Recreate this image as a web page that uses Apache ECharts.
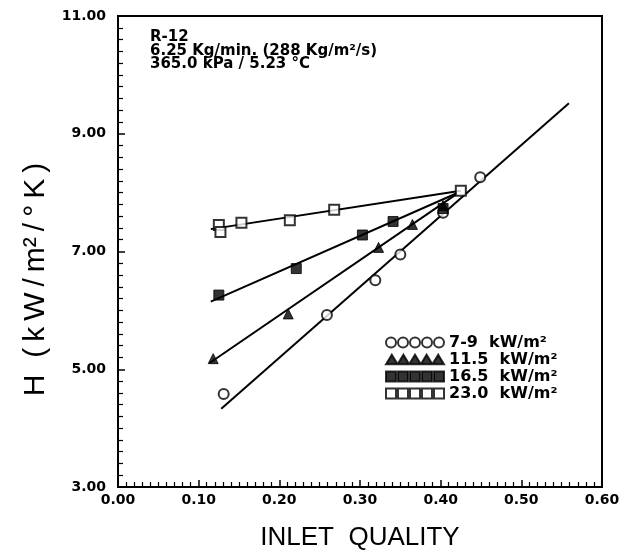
<!DOCTYPE html>
<html>
<head>
<meta charset="utf-8">
<script src="https://cdn.jsdelivr.net/npm/echarts@6/dist/echarts.min.js"></script>
<style>
  html, body { margin: 0; padding: 0; background: #fff; }
  #chart { width: 623px; height: 556px; }
</style>
</head>
<body>
<div id="chart"></div>
<script>
// Heat flux groups
const groupNames = ['7-9  kW/m²', '11.5  kW/m²', '16.5  kW/m²', '23.0  kW/m²'];

// Measured points: inlet quality and heat transfer coefficient (kW/m²/°K)
const quality79 = [0.131, 0.259, 0.319, 0.350, 0.403, 0.449];
const coeff79   = [4.58, 5.92, 6.51, 6.95, 7.66, 8.26];

const quality115 = [0.118, 0.211, 0.323, 0.365, 0.403];
const coeff115   = [5.18, 5.94, 7.07, 7.46, 7.78];

const quality165 = [0.125, 0.221, 0.303, 0.341, 0.403];
const coeff165   = [6.26, 6.71, 7.28, 7.51, 7.73];

const quality230 = [0.125, 0.127, 0.153, 0.213, 0.268, 0.425];
const coeff230   = [7.45, 7.33, 7.49, 7.53, 7.71, 8.03];

// Fitted straight lines, given by their two end points
const fitQuality79  = [0.128, 0.559];
const fitCoeff79    = [4.33, 9.52];
const fitQuality115 = [0.114, 0.420];
const fitCoeff115   = [5.11, 7.98];
const fitQuality165 = [0.115, 0.420];
const fitCoeff165   = [6.15, 7.99];
const fitQuality230 = [0.115, 0.425];
const fitCoeff230   = [7.38, 8.03];

// Axis ticks
const xTicks = [0.0, 0.1, 0.2, 0.3, 0.4, 0.5, 0.6];
const yTicks = [3, 5, 7, 9, 11];

// Run conditions
const noteLines = ['R-12', '6.25 Kg/min. (288 Kg/m²/s)', '365.0 kPa / 5.23 °C'];

const zip = (xs, ys) => xs.map((x, i) => [x, ys[i]]);

// Legend icons: a row of five markers each
function rowPath(shape) {
  let p = '';
  for (let i = 0; i < 5; i++) {
    const cx = 6 + i * 12;
    if (shape === 'ring') {
      p += `M${cx - 5},6 A5,5 0 1,0 ${cx + 5},6 A5,5 0 1,0 ${cx - 5},6 Z `;
    } else if (shape === 'triangle') {
      p += `M${cx - 6},11 L${cx},1 L${cx + 6},11 Z `;
    } else {
      p += `M${cx - 5},1 L${cx + 5},1 L${cx + 5},11 L${cx - 5},11 Z `;
    }
  }
  return 'path://' + p;
}

const black = '#000';
const tickFont = { fontFamily: 'DejaVu Sans', fontWeight: 'bold', fontSize: 14, color: black };

function scatter(name, xs, ys, symbol, filled) {
  return {
    name, type: 'scatter', data: zip(xs, ys), symbol, symbolSize: 10,
    itemStyle: filled
      ? { color: black, borderColor: black, borderWidth: 1 }
      : { color: '#fff', borderColor: black, borderWidth: 2 },
    z: 5
  };
}
function fit(xs, ys) {
  return {
    type: 'line', data: zip(xs, ys), showSymbol: false, symbol: 'none',
    lineStyle: { color: black, width: 2 }, silent: true, z: 3
  };
}

// Loosely spaced lettering for the vertical axis title
const thin = '\u2009';
const yTitle = 'H  ' + ['(', 'k', 'W', '/', 'm²', '/', '°', 'K', ')'].join(thin);

const chart = echarts.init(document.getElementById('chart'), null, { renderer: 'canvas' });
chart.setOption({
  animation: false,
  backgroundColor: '#fff',
  grid: { left: 118, right: 21, top: 16, bottom: 58, show: true, borderColor: black, borderWidth: 2 },
  xAxis: {
    type: 'value', min: xTicks[0], max: xTicks[xTicks.length - 1], interval: 0.1,
    name: 'INLET  QUALITY', nameLocation: 'middle', nameGap: 38,
    nameTextStyle: { fontFamily: 'Liberation Sans', fontSize: 26, color: black },
    axisLine: { lineStyle: { color: black, width: 2 } },
    axisTick: { inside: true, length: 7, lineStyle: { color: black, width: 1.5 } },
    minorTick: { show: true, splitNumber: 10, length: 5, lineStyle: { color: black, width: 1.2 } },
    splitLine: { show: false },
    axisLabel: { ...tickFont, margin: 6, formatter: v => v.toFixed(2) }
  },
  yAxis: {
    type: 'value', min: yTicks[0], max: yTicks[yTicks.length - 1], interval: 2,
    name: yTitle, nameLocation: 'middle', nameGap: 58,
    nameTextStyle: { fontFamily: 'Liberation Sans', fontSize: 30, color: black, padding: [0, 56, 0, 0] },
    axisLine: { lineStyle: { color: black, width: 2 } },
    axisTick: { inside: true, length: 7, lineStyle: { color: black, width: 1.5 } },
    minorTick: { show: true, splitNumber: 10, length: 5, lineStyle: { color: black, width: 1.2 } },
    splitLine: { show: false },
    axisLabel: { ...tickFont, margin: 12, formatter: v => v.toFixed(2) }
  },
  legend: {
    orient: 'vertical', left: 380, top: 329, itemGap: 0,
    itemWidth: 58, itemHeight: 11,
    textStyle: { fontFamily: 'DejaVu Sans', fontWeight: 'bold', fontSize: 16, lineHeight: 17, color: black },
    data: [
      { name: groupNames[0], icon: rowPath('ring'), itemStyle: { color: '#fff', borderColor: black, borderWidth: 2 } },
      { name: groupNames[1], icon: rowPath('triangle'), itemStyle: { color: black } },
      { name: groupNames[2], icon: rowPath('square'), itemStyle: { color: black } },
      { name: groupNames[3], icon: rowPath('square'), itemStyle: { color: '#fff', borderColor: black, borderWidth: 2 } }
    ]
  },
  graphic: [{
    type: 'text', left: 150, top: 30,
    style: { text: noteLines.join('\n'), fontFamily: 'DejaVu Sans', fontWeight: 'bold', fontSize: 15, lineHeight: 13.5, fill: black }
  }],
  series: [
    fit(fitQuality79, fitCoeff79),
    fit(fitQuality115, fitCoeff115),
    fit(fitQuality165, fitCoeff165),
    fit(fitQuality230, fitCoeff230),
    scatter(groupNames[0], quality79, coeff79, 'circle', false),
    scatter(groupNames[1], quality115, coeff115, 'triangle', true),
    scatter(groupNames[2], quality165, coeff165, 'rect', true),
    scatter(groupNames[3], quality230, coeff230, 'rect', false)
  ]
});
</script>
</body>
</html>
